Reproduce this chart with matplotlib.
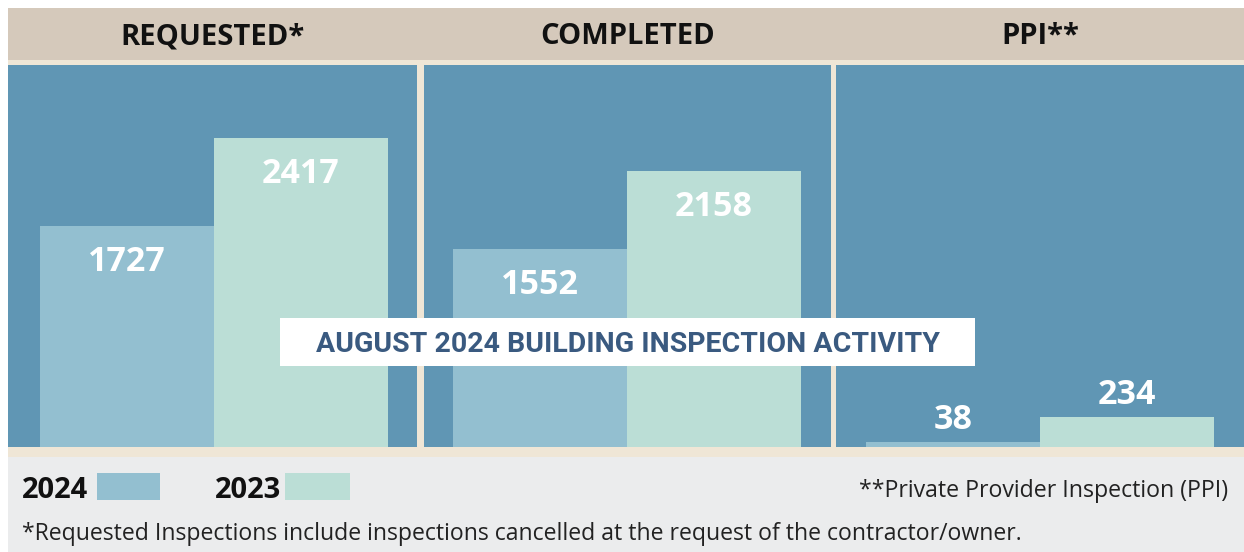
import matplotlib
matplotlib.use("Agg")
import matplotlib.pyplot as plt
from matplotlib.patches import Rectangle
from matplotlib import font_manager

panels = ["REQUESTED*", "COMPLETED", "PPI**"]
years = ["2024", "2023"]
values_2024 = [1727, 1552, 38]
values_2023 = [2417, 2158, 234]
title = "AUGUST 2024 BUILDING INSPECTION ACTIVITY"
note_ppi = "**Private Provider Inspection (PPI)"
note_req = "*Requested Inspections include inspections cancelled at the request of the contractor/owner."

panel_blue = "#6096b4"
c2024 = "#93bfd0"
c2023 = "#bbded6"
tan = "#d5c9bb"
cream = "#efe6d6"
grey = "#ebeced"
navy = "#3a5a80"

names = {f.name for f in font_manager.fontManager.ttflist}
narrow = "Liberation Sans Narrow" if "Liberation Sans Narrow" in names else "Roboto"
plt.rcParams["font.family"] = ["Open Sans", "DejaVu Sans"]

W, H = 1244, 552
fig = plt.figure(figsize=(W / 100, H / 100), dpi=100)

def px(x0, y0, x1, y1):
    # pixel box (top-left origin) -> figure fraction rect
    return [x0 / W, 1 - y1 / H, (x1 - x0) / W, (y1 - y0) / H]

def frect(x0, y0, x1, y1, color, z=-10):
    l, b, w, h = px(x0, y0, x1, y1)
    fig.patches.append(Rectangle((l, b), w, h, transform=fig.transFigure,
                                 facecolor=color, edgecolor="none", zorder=z))

# background bands
frect(8, 8, W, 60, tan)
frect(8, 60, W, 457, cream)
frect(8, 457, W, H, grey)

panel_x = [(8, 417), (424, 831), (836, W)]
pad = [(32, 29), (29, 30), (30, 30)]  # px left/right of the bar pair
ymax = 382 * 7.83
for i, (x0, x1) in enumerate(panel_x):
    ax = fig.add_axes(px(x0, 65, x1, 447), zorder=1)
    ax.set_facecolor(panel_blue)
    ax.set_xlim(-0.5 - pad[i][0] / 174, 1.5 + pad[i][1] / 174)
    ax.set_ylim(0, ymax)
    ax.bar(0, values_2024[i], width=1, color=c2024)
    ax.bar(1, values_2023[i], width=1, color=c2023)
    for j, v in enumerate([values_2024[i], values_2023[i]]):
        if v > 500:
            ax.text(j, v - 36 * 7.83, str(v), ha="center", va="center",
                    color="white", fontsize=24.5, fontweight="bold")
        else:
            ax.text(j, v + 22 * 7.83, str(v), ha="center", va="center",
                    color="white", fontsize=24.5, fontweight="bold")
    ax.set_xticks([])
    ax.set_yticks([])
    for s in ax.spines.values():
        s.set_visible(False)
    fig.text((x0 + x1) / 2 / W, 1 - 37 / H, panels[i], ha="center", va="center",
             fontsize=21, fontweight="bold", color="#111111")

# title box
frect(280, 318, 975, 366, "white", z=5)
fig.text(628 / W, 1 - 345 / H, title, ha="center", va="center", fontsize=20.5,
         fontweight="bold", color=navy, family=[narrow, "DejaVu Sans"], zorder=6)

# legend
fig.text(22 / W, 1 - 490 / H, years[0], ha="left", va="center", fontsize=21,
         fontweight="bold", color="#111111")
frect(97, 473, 160, 500, c2024)
fig.text(215 / W, 1 - 490 / H, years[1], ha="left", va="center", fontsize=21,
         fontweight="bold", color="#111111")
frect(285, 473, 350, 500, c2023)

fig.text(1228 / W, 1 - 491 / H, note_ppi, ha="right", va="center", fontsize=16.7,
         color="#222222")
fig.text(22 / W, 1 - 534 / H, note_req, ha="left", va="center", fontsize=16.55,
         color="#222222")

fig.savefig("out.png", dpi=100)
